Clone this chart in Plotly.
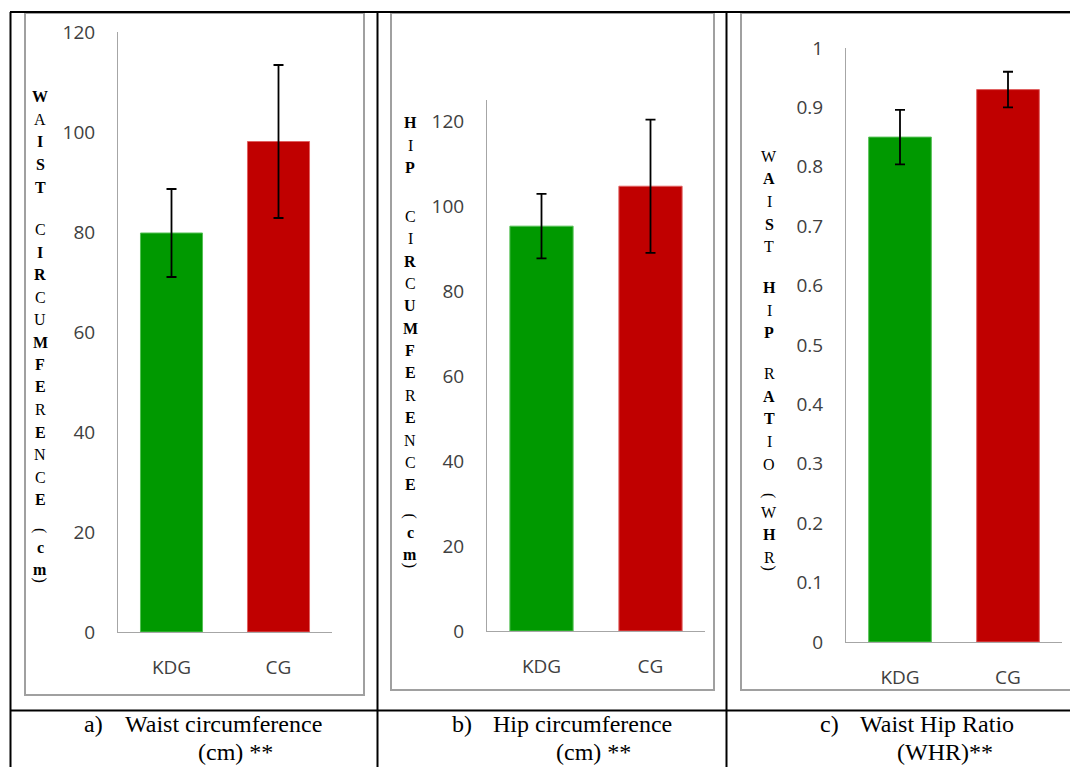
import plotly.graph_objects as go

# ---------------- data ----------------
categories = ["KDG", "CG"]
waist_mean = [79.8, 98.1]
waist_sd = [8.8, 15.3]
hip_mean = [95.3, 104.7]
hip_sd = [7.6, 15.7]
whr_mean = [0.85, 0.93]
whr_sd = [0.046, 0.030]

y_titles = ["WAIST CIRCUMFERENCE (cm)", "HIP CIRCUMFERENCE (cm)", "WAIST HIP RATIO (WHR)"]
title_bold = ["10111 0110011101001 0110", "101 0010111101001 0110", "01010 101 01100 00100"]
caption_letters = ["a)", "b)", "c)"]
caption_line1 = ["Waist circumference", "Hip circumference", "Waist Hip Ratio"]
caption_line2 = ["(cm) **", "(cm) **", "(WHR)**"]

bar_colors = ["#009900", "#C00000"]
edge_colors = ["#55c055", "#e06060"]

W, H = 1070, 767
fx = lambda x: x / W
fy = lambda y: 1 - y / H

fig = go.Figure()

panels = [
    dict(mean=waist_mean, sd=waist_sd, x0=118, x1=332, ytop=32, ybot=632, rng=[0, 120], dtick=20),
    dict(mean=hip_mean, sd=hip_sd, x0=487, x1=705, ytop=100, ybot=631, rng=[0, 125], dtick=20),
    dict(mean=whr_mean, sd=whr_sd, x0=846, x1=1062, ytop=48, ybot=642, rng=[0, 1], dtick=0.1),
]

tickfont = dict(family="Open Sans", size=19, color="#404040")

for i, p in enumerate(panels):
    n = "" if i == 0 else str(i + 1)
    fig.add_trace(go.Bar(
        x=categories, y=p["mean"],
        marker=dict(color=bar_colors, line=dict(color=edge_colors, width=1)),
        error_y=dict(type="data", array=p["sd"], color="black", thickness=1.8, width=5),
        xaxis="x" + n, yaxis="y" + n, showlegend=False,
    ))
    fig.layout["xaxis" + n] = dict(
        domain=[fx(p["x0"]), fx(p["x1"])], anchor="y" + n, automargin=False,
        showline=True, linecolor="#a6a6a6", linewidth=1, ticks="",
        showgrid=False, zeroline=False, tickfont=tickfont, ticklabelstandoff=18,
        fixedrange=True,
    )
    fig.layout["yaxis" + n] = dict(
        domain=[fy(p["ybot"]), fy(p["ytop"])], anchor="x" + n, automargin=False,
        range=p["rng"], dtick=p["dtick"],
        showline=True, linecolor="#a6a6a6", linewidth=1, ticks="",
        showgrid=False, zeroline=False, tickfont=tickfont, ticklabelstandoff=18,
        fixedrange=True,
    )

fig.update_layout(bargap=0.42)

shapes = []
boxes = [(25, 13, 364, 695), (391, 13, 714, 690), (741, 13, 1080, 690)]
for (a, b, c, d) in boxes:
    shapes.append(dict(type="rect", xref="paper", yref="paper",
                       x0=fx(a), x1=fx(c), y0=fy(d), y1=fy(b),
                       line=dict(color="#a0a0a0", width=2)))
line = dict(color="black", width=2)
shapes.append(dict(type="line", xref="paper", yref="paper", x0=fx(10), x1=fx(1080), y0=fy(12), y1=fy(12), line=line))
shapes.append(dict(type="line", xref="paper", yref="paper", x0=fx(10), x1=fx(1080), y0=fy(710.5), y1=fy(710.5), line=line))
for vx in [10.5, 377.5, 726.5]:
    shapes.append(dict(type="line", xref="paper", yref="paper", x0=fx(vx), x1=fx(vx), y0=fy(12), y1=fy(790), line=line))
fig.update_layout(shapes=shapes)


def stacked(text, y0, step, space):
    out = []
    y = None
    prev = None
    space_before = False
    for k, ch in enumerate(text):
        if ch == " ":
            space_before = True
            continue
        if y is None:
            y = y0
        else:
            gap = step
            if space_before:
                gap += space if ch != "(" else 8
            if prev == "(":
                gap = 17
            if ch == ")":
                gap = 10
            y += gap
        out.append((k, ch, y))
        prev = ch
        space_before = False
    return out


title_cfg = [(40, 97, 22.5, 20), (410, 123, 22.4, 26), (769, 156, 22.7, 18)]
annotations = []
for t, mask, (xc, y0, step, space) in zip(y_titles, title_bold, title_cfg):
    for k, ch, y in stacked(t, y0, step, space):
        bold = k < len(mask) and mask[k] == "1"
        txt = "<b>%s</b>" % ch if bold else ch
        ann = dict(xref="paper", yref="paper", x=fx(xc), y=fy(y), text=txt, showarrow=False,
                   xanchor="center", yanchor="middle",
                   font=dict(family="Liberation Serif", size=16, color="black"))
        if ch in "()":
            ann["textangle"] = 90
        annotations.append(ann)

cap_cfg = [(82, 123, 235), (450, 491, 593), (818, 858, 945)]
capfont = dict(family="Liberation Serif", size=24, color="black")
for lt, l1, l2, (xl, xt, xc) in zip(caption_letters, caption_line1, caption_line2, cap_cfg):
    annotations.append(dict(xref="paper", yref="paper", x=fx(xl), y=fy(724), text=lt, showarrow=False,
                            xanchor="left", yanchor="middle", font=capfont))
    annotations.append(dict(xref="paper", yref="paper", x=fx(xt), y=fy(724), text=l1, showarrow=False,
                            xanchor="left", yanchor="middle", font=capfont))
    annotations.append(dict(xref="paper", yref="paper", x=fx(xc), y=fy(752), text=l2, showarrow=False,
                            xanchor="center", yanchor="middle", font=capfont))

fig.update_layout(
    annotations=annotations,
    width=W, height=H, margin=dict(l=0, r=0, t=0, b=0, autoexpand=False),
    paper_bgcolor="white", plot_bgcolor="white",
)

fig.write_html(
    "out.html",
    config={"displayModeBar": False},
    post_script="document.body.style.margin='0';document.body.style.overflow='hidden';",
)
